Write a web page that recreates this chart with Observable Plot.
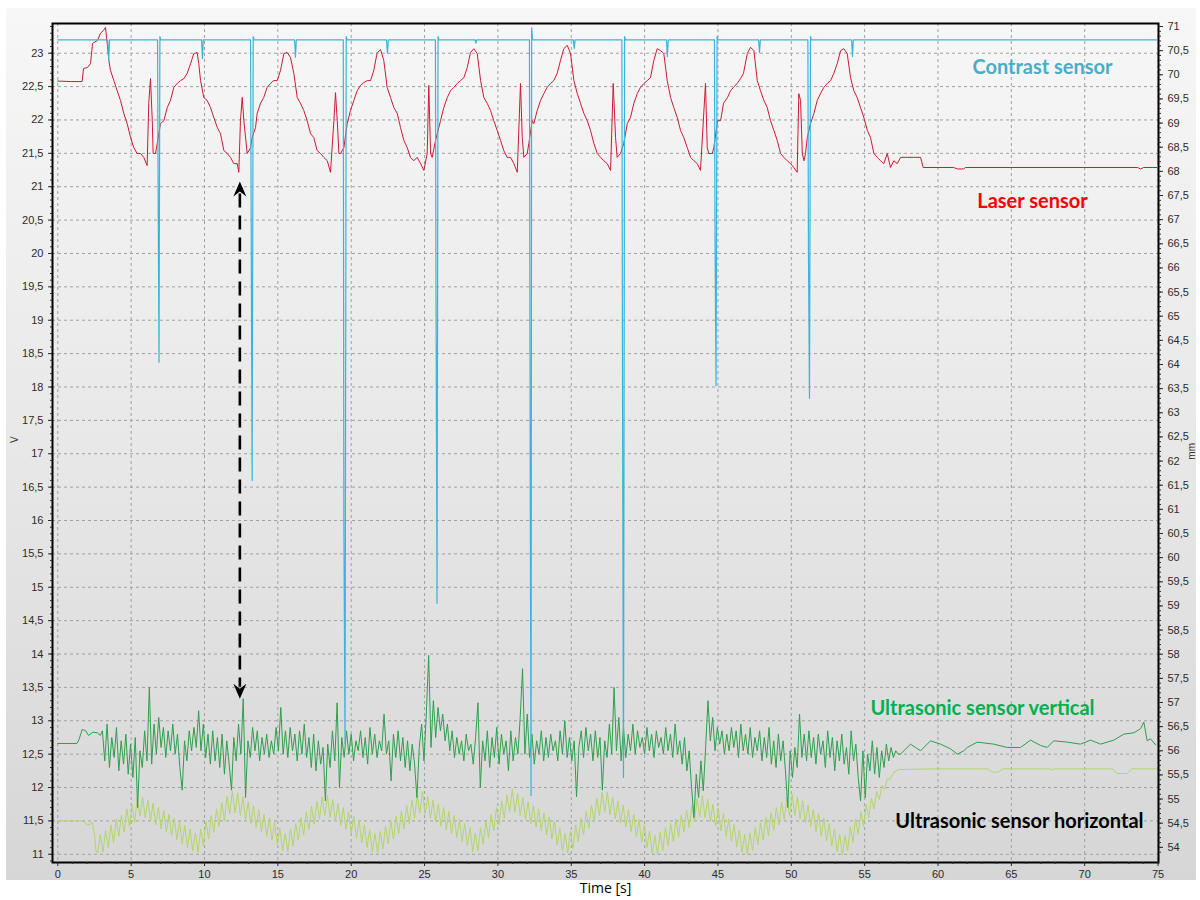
<!DOCTYPE html>
<html><head><meta charset="utf-8">
<script src="https://cdn.jsdelivr.net/npm/d3@7"></script>
<script src="https://cdn.jsdelivr.net/npm/@observablehq/plot@0.6"></script>
<style>
body{margin:0;background:#fff;}
#wrap{position:relative;width:1200px;height:900px;overflow:hidden;}
#panel{position:absolute;left:6px;top:8px;width:1190px;height:872px;background:linear-gradient(#f7f7f7,#e8e8e8 50%,#d6d6d6);}
#chart{position:absolute;left:0;top:0;}
</style></head><body><div id="wrap"><div id="panel"></div><div id="chart"></div></div>
<script>
// ---- axis ticks ----
const timeTicks = d3.range(0, 75.01, 5);
const timeMinor = d3.range(0, 75.01, 1);
const vTicks = d3.range(11, 23.01, 0.5);
const vMinor = d3.range(10.9, 23.45, 0.1);
const mmTicks = d3.range(54, 71.01, 0.5);
const mmMinor = d3.range(53.9, 71.05, 0.1);

// ---- contrast sensor [t s, V] ----
const contrastV = [
[0,23.2],[3.40,23.2],[3.47,22.9],[3.53,23.2],
[6.80,23.2],[6.84,20.95],[6.90,18.37],[6.96,23.25],[7.02,23.2],
[9.80,23.2],[9.86,22.92],[9.92,23.2],
[13.14,23.2],[13.18,20.6],[13.25,16.6],[13.32,23.25],[13.38,23.2],
[16.14,23.2],[16.20,22.94],[16.26,23.2],
[19.46,23.2],[19.50,16.0],[19.58,12.66],[19.66,23.25],[19.72,23.2],
[22.41,23.2],[22.47,23.0],[22.53,23.2],
[25.74,23.2],[25.78,19.5],[25.85,14.76],[25.92,23.25],[25.98,23.2],
[28.45,23.2],[28.5,23.15],[28.55,23.2],
[32.15,23.2],[32.2,17.0],[32.26,11.88],[32.3,23.38],[32.36,23.2],
[35.14,23.2],[35.2,23.07],[35.26,23.2],
[38.45,23.2],[38.5,17.5],[38.56,12.15],[38.64,23.25],[38.7,23.2],
[41.49,23.2],[41.55,22.95],[41.61,23.2],
[44.76,23.2],[44.8,20.2],[44.87,18.02],[44.94,23.25],[45.0,23.2],
[47.77,23.2],[47.83,23.01],[47.89,23.2],
[51.13,23.2],[51.17,20.0],[51.24,17.83],[51.31,23.25],[51.37,23.2],
[54.11,23.2],[54.17,22.95],[54.23,23.2],
[74.9,23.2]
];

// ---- laser sensor [t s, mm] ----
const laserMM = [
[0,69.87],[0.87,69.86],[1.66,69.86],[1.75,70.13],[2.02,70.15],[2.23,70.23],[2.37,70.65],[2.47,70.67],[2.71,70.71],[2.91,70.86],[3.12,70.92],[3.25,70.98],[3.37,70.65],[3.48,70.30],[3.59,70.09],[3.82,69.88],[4.05,69.67],[4.27,69.47],[4.50,69.20],[4.73,68.99],[4.96,68.70],[5.18,68.49],[5.41,68.37],[5.64,68.37],[5.86,68.29],[6.09,68.12],[6.20,69.41],[6.32,69.92],[6.44,69.05],[6.50,68.37],[6.66,68.37],[6.78,68.58],[7.00,68.99],[7.23,69.05],[7.46,69.32],[7.68,69.47],[7.91,69.74],[8.14,69.82],[8.36,69.88],[8.59,69.92],[8.82,70.03],[9.05,70.23],[9.27,70.44],[9.50,70.46],[9.61,70.23],[9.73,69.88],[9.95,69.53],[10.18,69.47],[10.41,69.32],[10.63,69.12],[10.87,68.91],[11.09,68.78],[11.32,68.43],[11.55,68.37],[11.77,68.29],[12.00,68.16],[12.23,68.16],[12.34,67.98],[12.45,69.05],[12.57,69.53],[12.68,69.05],[12.91,68.37],[13.14,68.49],[13.25,68.70],[13.48,68.91],[13.59,69.20],[13.82,69.41],[14.04,69.53],[14.27,69.74],[14.50,69.82],[14.72,69.88],[14.96,69.88],[15.18,70.09],[15.41,70.44],[15.64,70.46],[15.86,70.36],[16.09,70.03],[16.32,69.53],[16.54,69.41],[16.77,69.26],[17.00,69.05],[17.23,68.78],[17.45,68.70],[17.68,68.43],[17.91,68.37],[18.13,68.29],[18.37,68.22],[18.59,67.98],[18.82,69.05],[18.93,69.63],[19.05,69.05],[19.16,68.37],[19.27,68.37],[19.50,68.49],[19.73,68.99],[19.95,69.26],[20.18,69.47],[20.41,69.67],[20.64,69.78],[20.86,69.84],[21.09,69.88],[21.32,69.88],[21.54,70.09],[21.77,70.46],[22.00,70.52],[22.22,70.30],[22.45,69.74],[22.68,69.53],[22.91,69.32],[23.14,69.20],[23.36,68.91],[23.59,68.64],[23.82,68.49],[24.04,68.29],[24.27,68.22],[24.50,68.29],[24.73,68.16],[24.95,68.02],[25.18,68.37],[25.29,69.78],[25.41,68.37],[25.52,68.29],[25.75,68.64],[26.09,69.05],[26.31,69.32],[26.55,69.53],[26.77,69.67],[27.00,69.74],[27.23,69.82],[27.45,69.88],[27.68,69.94],[27.91,70.15],[28.13,70.46],[28.36,70.54],[28.59,70.44],[28.82,69.88],[29.04,69.53],[29.27,69.41],[29.50,69.26],[29.72,69.05],[29.95,68.85],[30.18,68.64],[30.40,68.43],[30.64,68.29],[30.86,68.29],[31.09,68.16],[31.32,67.98],[31.54,69.82],[31.66,68.70],[31.77,68.29],[32.00,68.37],[32.11,68.58],[32.34,69.05],[32.45,68.99],[32.68,69.26],[32.91,69.47],[33.13,69.61],[33.36,69.74],[33.59,69.82],[33.81,69.88],[34.04,70.03],[34.27,70.30],[34.49,70.54],[34.73,70.61],[34.95,70.44],[35.18,69.88],[35.41,69.61],[35.63,69.41],[35.86,69.20],[36.09,69.05],[36.31,68.85],[36.54,68.58],[36.77,68.37],[37.00,68.29],[37.22,68.22],[37.45,68.16],[37.68,68.02],[37.86,69.82],[38.02,68.70],[38.13,68.29],[38.36,68.37],[38.58,68.58],[38.82,68.99],[39.04,69.12],[39.27,69.41],[39.50,69.61],[39.72,69.74],[39.95,69.82],[40.18,69.88],[40.40,69.94],[40.63,70.30],[40.86,70.54],[41.09,70.50],[41.31,70.44],[41.54,69.88],[41.77,69.53],[41.99,69.32],[42.22,69.12],[42.45,68.85],[42.67,68.70],[42.91,68.49],[43.13,68.29],[43.36,68.22],[43.59,68.16],[43.81,68.02],[44.15,69.82],[44.27,68.49],[44.38,68.37],[44.61,68.37],[44.72,68.49],[44.97,69.05],[45.18,69.05],[45.38,69.41],[45.65,69.53],[45.86,69.67],[46.06,69.74],[46.31,69.82],[46.54,69.92],[46.74,70.03],[47.00,70.44],[47.22,70.57],[47.45,70.50],[47.68,69.88],[47.90,69.67],[48.13,69.47],[48.36,69.32],[48.58,69.05],[48.81,68.85],[49.04,68.64],[49.27,68.37],[49.49,68.29],[49.72,68.22],[49.95,68.16],[50.17,68.08],[50.40,67.98],[50.51,69.61],[50.63,69.47],[50.75,68.37],[50.86,68.22],[50.97,68.37],[51.09,68.70],[51.31,68.99],[51.54,69.20],[51.77,69.47],[51.99,69.61],[52.22,69.74],[52.45,69.82],[52.68,69.88],[52.90,70.03],[53.13,70.23],[53.36,70.50],[53.58,70.54],[53.81,70.44],[54.04,69.94],[54.26,69.67],[54.49,69.53],[54.72,69.32],[54.94,69.12],[55.18,68.85],[55.40,68.70],[55.63,68.37],[55.86,68.29],[56.08,68.22],[56.31,68.16],[56.54,68.37],[56.76,68.08],[56.99,68.22],[57.22,68.16],[57.45,68.29],[57.90,68.29],[58.35,68.29],[58.81,68.29],[58.99,68.08],[61.06,68.08],[61.33,68.05],[61.74,68.05],[61.88,68.08],[73.60,68.08],[73.81,68.05],[74.01,68.08],[74.9,68.08]
];

// ---- ultrasonic vertical [V] ----
const usVStart = [[0,12.66],[1.3,12.66],[1.45,12.72],[1.66,12.87],[1.9,12.85],[2.1,12.78],[2.4,12.83],[2.7,12.82],[2.9,12.78]];
const usVNoiseT0 = 3.04, usVNoiseDt = 0.16;   // sampling of the noisy part
const usVNoise = [
12.85,12.40,12.95,12.30,12.75,12.45,12.90,12.25,12.70,12.35,
12.80,12.20,12.65,12.15,12.75,11.70,12.55,12.30,12.85,12.40,
13.50,12.35,12.95,12.50,13.05,12.60,12.90,12.45,12.85,12.55,
12.95,12.50,12.80,12.30,11.96,12.70,12.40,12.85,12.55,12.90,
12.60,13.15,12.55,12.95,12.45,12.80,12.35,12.85,12.40,12.75,
12.30,12.80,12.20,12.70,12.35,11.96,12.75,12.40,12.95,12.50,
13.33,11.85,12.70,12.45,12.90,12.55,12.85,12.40,12.75,12.50,
12.80,12.45,12.70,12.50,12.90,12.55,13.20,12.50,12.85,12.45,
12.90,12.55,12.80,12.40,12.85,12.50,12.95,12.45,12.75,12.30,
12.80,12.25,12.70,12.35,12.60,11.80,12.65,12.30,12.85,12.40,
13.27,12.00,12.75,12.45,12.85,12.50,12.80,12.40,12.70,12.55,
12.85,12.45,12.75,12.35,12.90,12.50,12.80,12.45,12.70,12.55,
13.10,12.50,12.70,12.10,12.80,12.45,12.85,12.40,12.75,12.30,
12.70,12.25,12.65,12.35,11.85,12.60,12.95,12.40,13.10,13.98,
12.60,13.30,12.75,13.20,12.85,13.10,12.70,12.95,12.55,12.85,
12.45,12.75,12.50,12.70,12.40,12.80,12.55,12.65,12.35,12.75,
13.27,12.00,12.70,12.40,12.85,12.30,12.75,12.45,12.90,12.35,
12.80,12.50,12.70,12.25,12.85,12.40,12.75,12.50,13.05,13.78,
12.50,13.10,12.45,12.80,12.35,12.70,12.50,12.85,12.40,12.75,
12.45,12.80,12.55,12.70,12.40,12.85,12.50,13.00,12.45,12.75,
12.40,12.70,11.86,12.60,12.85,12.45,12.90,12.55,12.80,12.40,
12.85,12.45,12.75,11.96,12.70,12.45,12.95,12.50,13.50,12.55,
13.05,12.40,12.90,12.45,12.80,12.55,12.95,12.50,12.85,12.60,
12.75,12.50,12.90,12.55,12.80,12.45,12.85,12.60,12.75,12.50,
12.90,12.55,12.80,12.45,12.95,12.50,12.70,12.35,12.75,12.25,
12.55,12.00,11.55,12.20,11.85,12.40,11.95,12.60,13.30,12.70,
13.05,12.55,12.90,12.65,12.85,12.50,12.80,12.55,12.90,12.60,
12.85,12.45,12.95,12.55,12.80,12.50,12.90,12.45,12.75,12.55,
12.85,12.40,12.75,12.45,12.90,12.35,12.70,12.30,12.80,12.40,
12.70,12.25,11.70,12.55,12.15,12.60,12.30,13.10,12.45,12.80,
12.40,12.85,12.45,12.75,12.35,12.80,12.50,12.70,12.30,12.85,
12.45,12.75,12.25,12.70,12.40,12.80,12.35,12.60,12.20,12.85,
12.40,12.65,12.15,11.80,12.55,11.85,12.50,12.25,12.70,12.20,
12.60,12.15,12.55,12.30,12.65,12.40,12.60,12.45,12.55,12.50
];
const usVEnd = [[57.44,12.50],[58.13,12.65],[58.47,12.60],[58.81,12.55],[59.49,12.70],[60.17,12.65],[60.85,12.58],[61.31,12.50],[61.76,12.55],[61.99,12.60],[62.67,12.68],[63.80,12.65],[64.72,12.60],[65.62,12.60],[66.31,12.71],[66.99,12.63],[67.44,12.60],[67.89,12.70],[68.81,12.68],[69.71,12.65],[70.40,12.71],[71.08,12.65],[71.98,12.71],[72.67,12.80],[73.35,12.82],[73.80,12.88],[74.03,12.98],[74.26,12.70],[74.49,12.73],[74.83,12.64]];

// ---- ultrasonic horizontal [V] ----
const usHStart = [[0,11.5],[1.75,11.5],[1.85,11.47],[2.0,11.44],[2.2,11.45],[2.35,11.48],[2.5,11.3],[2.6,11.05]];
const usHZigT0 = 2.72, usHZigDt = 0.18;
const usHZig = [
11.02,11.30,11.03,11.36,11.10,11.44,11.17,11.53,11.27,11.58,
11.33,11.68,11.42,11.74,11.48,11.84,11.57,11.86,11.55,11.81,
11.50,11.77,11.44,11.70,11.38,11.66,11.33,11.60,11.28,11.54,
11.22,11.49,11.16,11.43,11.10,11.38,11.05,11.32,11.03,11.38,
11.13,11.49,11.23,11.58,11.33,11.68,11.42,11.77,11.50,11.87,
11.61,11.95,11.62,11.92,11.58,11.86,11.52,11.79,11.46,11.73,
11.40,11.67,11.34,11.60,11.27,11.54,11.21,11.48,11.15,11.39,
11.05,11.31,11.04,11.38,11.12,11.46,11.21,11.55,11.29,11.63,
11.37,11.72,11.45,11.79,11.53,11.86,11.58,11.88,11.55,11.82,
11.49,11.76,11.43,11.70,11.37,11.64,11.31,11.57,11.24,11.51,
11.17,11.44,11.10,11.37,11.04,11.31,11.02,11.34,11.08,11.42,
11.16,11.50,11.23,11.57,11.31,11.65,11.38,11.73,11.46,11.81,
11.54,11.89,11.62,11.94,11.60,11.87,11.54,11.81,11.48,11.75,
11.42,11.70,11.37,11.64,11.31,11.58,11.25,11.52,11.19,11.46,
11.13,11.40,11.04,11.32,11.05,11.40,11.15,11.50,11.25,11.60,
11.35,11.70,11.44,11.80,11.54,11.89,11.63,11.98,11.63,11.91,
11.58,11.85,11.52,11.79,11.46,11.73,11.41,11.68,11.35,11.62,
11.29,11.56,11.23,11.50,11.14,11.39,11.05,11.31,11.02,11.34,
11.09,11.44,11.19,11.54,11.29,11.64,11.39,11.74,11.49,11.84,
11.58,11.93,11.63,11.93,11.59,11.86,11.53,11.80,11.47,11.74,
11.41,11.67,11.34,11.60,11.26,11.52,11.18,11.44,11.10,11.35,
11.01,11.28,11.00,11.33,11.06,11.40,11.13,11.46,11.19,11.53,
11.26,11.59,11.33,11.66,11.40,11.74,11.49,11.83,11.56,11.88,
11.55,11.82,11.49,11.75,11.42,11.69,11.35,11.61,11.27,11.53,
11.19,11.45,11.11,11.36,11.03,11.30,11.00,11.32,11.06,11.40,
11.14,11.47,11.21,11.55,11.28,11.62,11.36,11.70,11.44,11.78,
11.52,11.86,11.58,11.90,11.58,11.86,11.53,11.80,11.47,11.74,
11.41,11.67,11.34,11.61,11.27,11.54,11.20,11.46,11.12,11.38,
11.04,11.30,10.99,11.28,11.05,11.41,11.18,11.53,11.30,11.64,
11.42,11.74,11.55,11.84,11.68,11.94,11.82,12.03,11.97,12.13,
12.12
];
const usHEnd = [[57.0,12.23],[57.3,12.27],[60.0,12.28],[63.4,12.28],[63.7,12.23],[64.1,12.23],[64.4,12.28],[67.6,12.28],[67.75,12.26],[67.9,12.28],[71.9,12.28],[72.2,12.21],[72.9,12.21],[73.2,12.28],[74.9,12.28]];

// ---- annotations ----
const seriesLabels = [
  {text: "Contrast sensor", t: 67.12, v: 22.79, color: "#4bacc6"},
  {text: "Laser sensor", t: 66.44, v: 20.77, color: "#ff0000"},
  {text: "Ultrasonic sensor vertical", t: 63.03, v: 13.18, color: "#00b050"},
  {text: "Ultrasonic sensor horizontal", t: 65.55, v: 11.49, color: "#000000"}
];
const arrowSpan = [{t: 12.41, top: 21.08, bottom: 13.33}];

// ---- helpers ----
const mmToV = m => 23.4 - (71 - m) * 0.7233;
const vToMm = v => 71 - (23.4 - v) / 0.7233;
const comma = d => String(+d.toFixed(1)).replace(".", ",");
const sampled = (t0, dt, vals) => vals.map((v, i) => [t0 + i * dt, v]);
const usVertical = [...usVStart, ...sampled(usVNoiseT0, usVNoiseDt, usVNoise), ...usVEnd];
const usHorizontal = [...usHStart, ...sampled(usHZigT0, usHZigDt, usHZig), ...usHEnd];
const stealth = {draw(ctx) { ctx.moveTo(0, 0); ctx.lineTo(6.5, 15); ctx.lineTo(0, 10); ctx.lineTo(-6.5, 15); ctx.closePath(); }};
const labelFont = "Lato, 'Open Sans', sans-serif";

const chart = Plot.plot({
  width: 1200, height: 900,
  marginLeft: 52, marginRight: 42, marginTop: 23, marginBottom: 38,
  style: {background: "transparent", fontFamily: "'Liberation Sans', Arial, sans-serif", fontSize: "11px", color: "#2b2b2b"},
  x: {domain: [-0.361, 75.03]},
  y: {domain: [10.877, 23.445]},
  marks: [
    Plot.gridY(vTicks, {stroke: "#a0a0a0", strokeOpacity: 1, strokeDasharray: "3,3"}),
    Plot.gridX(timeTicks, {stroke: "#a0a0a0", strokeOpacity: 1, strokeDasharray: "3,3"}),
    Plot.line(usHorizontal, {x: d => d[0], y: d => d[1], stroke: "#b2d66a", strokeWidth: 1}),
    Plot.line(usVertical, {x: d => d[0], y: d => d[1], stroke: "#2e9f4c", strokeWidth: 1}),
    Plot.line(laserMM, {x: d => d[0], y: d => mmToV(d[1]), stroke: "#cc1a36", strokeWidth: 1}),
    Plot.line(contrastV, {x: d => d[0], y: d => d[1], stroke: "#3ab4dc", strokeWidth: 1.2}),
    Plot.link(arrowSpan, {x1: "t", x2: "t", y1: d => d.top - 0.18, y2: d => d.bottom + 0.18, stroke: "#000", strokeWidth: 2.6, strokeDasharray: "14,8"}),
    Plot.dot(arrowSpan, {x: "t", y: "top", symbol: stealth, fill: "#000", stroke: "none"}),
    Plot.dot(arrowSpan, {x: "t", y: "bottom", symbol: stealth, fill: "#000", stroke: "none", rotate: 180}),
    ...seriesLabels.map(l => Plot.text([l], {x: "t", y: "v", text: "text", fill: l.color, fontSize: 20, fontWeight: "bold", fontFamily: labelFont})),
    Plot.frame({stroke: "#000", strokeWidth: 2}),
    Plot.axisY(vTicks, {anchor: "left", tickSize: 4, tickPadding: 5, tickFormat: comma, label: null}),
    Plot.axisY(vMinor, {anchor: "left", tickSize: 2, tickFormat: () => "", label: null}),
    Plot.axisY(mmTicks.map(mmToV), {anchor: "right", tickSize: 4, tickPadding: 5, tickFormat: v => comma(Math.round(vToMm(v) * 2) / 2), label: null}),
    Plot.axisY(mmMinor.map(mmToV), {anchor: "right", tickSize: 2, tickFormat: () => "", label: null}),
    Plot.axisX(timeTicks, {anchor: "bottom", tickSize: 4, tickPadding: 4, tickFormat: d => String(d), label: null}),
    Plot.axisX(timeMinor, {anchor: "bottom", tickSize: 2, tickFormat: () => "", label: null}),
    Plot.text(["Time [s]"], {frameAnchor: "bottom", dy: 30, fontSize: 14, fontFamily: "'Open Sans', sans-serif", fill: "#000"}),
    Plot.text(["V"], {frameAnchor: "left", dx: -38, rotate: -90, fontSize: 10, fill: "#333"}),
    Plot.text(["mm"], {frameAnchor: "right", dx: 33, rotate: -90, fontSize: 10, fill: "#333"})
  ]
});
document.getElementById("chart").append(chart);
</script></body></html>
